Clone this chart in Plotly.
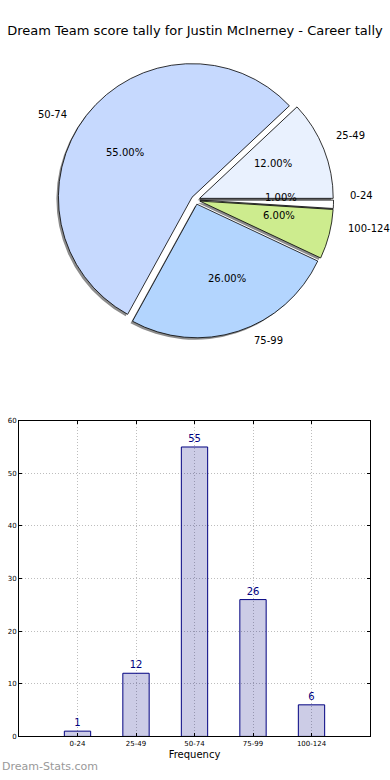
import numpy as np
import plotly.graph_objects as go

# ---------------- data ----------------
categories = ["0-24", "25-49", "50-74", "75-99", "100-124"]
counts = [1, 12, 55, 26, 6]
pie_colors = ["#ffffff", "#e9f1fe", "#c6d9fe", "#b3d5fe", "#cdec8e"]
title_text = "Dream Team score tally for Justin McInerney - Career tally"

W, H = 390, 780
FONT = "DejaVu Sans"

# pie geometry (pixels)
cx_px, cy_px = 195.5, 198.0
pull = 0.033
r_px = 135
half = r_px * (1 + pull)
dom_x = [(cx_px - half) / W, (cx_px + half) / W]
dom_y = [1 - (cy_px + half) / H, 1 - (cy_px - half) / H]
sh = 2.0
shadow_x = [dom_x[0] - sh / W, dom_x[1] - sh / W]
shadow_y = [dom_y[0] - sh / H, dom_y[1] - sh / H]

fig = go.Figure()

# shadow
fig.add_trace(go.Pie(
    values=counts, labels=categories, sort=False, direction="counterclockwise",
    rotation=90, pull=[pull] * len(counts), textinfo="none", hoverinfo="skip",
    marker=dict(colors=["rgba(0,0,0,0.45)"] * len(counts), line=dict(width=0)),
    domain=dict(x=shadow_x, y=shadow_y), showlegend=False,
))
# main pie
fig.add_trace(go.Pie(
    values=counts, labels=categories, sort=False, direction="counterclockwise",
    rotation=90, pull=[pull] * len(counts), textinfo="none",
    marker=dict(colors=pie_colors, line=dict(color="black", width=0.8)),
    domain=dict(x=dom_x, y=dom_y), showlegend=False,
))

# label positions derived from the data (matplotlib-style: pct at 0.6r, label at 1.1r)
vals = np.array(counts, dtype=float)
frac = vals / vals.sum()
ends = np.cumsum(frac) * 2 * np.pi
starts = ends - frac * 2 * np.pi
mid = (starts + ends) / 2
ux, uy = np.cos(mid), np.sin(mid)
pct_text = [f"{100 * f:.2f}%" for f in frac]

annotations = []
for i in range(len(counts)):
    annotations.append(dict(
        x=(pull + 0.6) * ux[i], y=(pull + 0.6) * uy[i], xref="x2", yref="y2",
        text=pct_text[i], showarrow=False, xanchor="center", yanchor="middle",
        font=dict(family=FONT, size=10, color="black"),
    ))
    annotations.append(dict(
        x=(pull + 1.1) * ux[i], y=(pull + 1.1) * uy[i], xref="x2", yref="y2",
        text=categories[i], showarrow=False,
        xanchor="left" if ux[i] > 0 else "right", yanchor="middle",
        font=dict(family=FONT, size=10, color="black"),
    ))
annotations.append(dict(
    text="Dream-Stats.com", x=0, y=0, xref="paper", yref="paper",
    xanchor="left", yanchor="bottom", yshift=1, showarrow=False,
    font=dict(family=FONT, size=11, color="#999999"),
))

# bar chart
fig.add_trace(go.Bar(
    x=categories, y=counts, width=0.45,
    marker=dict(color="rgba(0,0,128,0.2)", line=dict(color="#000080", width=1)),
    text=counts, texttemplate="%{y}", textposition="outside", cliponaxis=False,
    textfont=dict(family=FONT, size=10, color="#000080"),
    xaxis="x", yaxis="y", showlegend=False,
))

# overlay axes (invisible) sharing the pie's pixel scale, widened so labels stay in range
k = 1.35
ov_x = [(cx_px - k * half) / W, (cx_px + k * half) / W]
ov_y = [1 - (cy_px + k * half) / H, 1 - (cy_px - k * half) / H]
ext = k * (1 + pull)
grid = dict(showgrid=True, gridcolor="#bdbdbd", griddash="1px,2px", gridwidth=1)
fig.update_layout(
    width=W, height=H, margin=dict(l=0, r=0, t=0, b=0),
    paper_bgcolor="white", plot_bgcolor="white",
    font=dict(family=FONT, color="black"),
    title=dict(text=title_text, x=0.5, xanchor="center", y=1 - 30 / H, yanchor="middle",
               font=dict(family=FONT, size=13, color="black")),
    xaxis2=dict(domain=ov_x, range=[-ext, ext], visible=False, fixedrange=True, anchor="y2"),
    yaxis2=dict(domain=ov_y, range=[-ext, ext], visible=False, fixedrange=True, anchor="x2"),
    xaxis=dict(
        domain=[19 / W, 370 / W], range=[-1, 5], type="category",
        showline=True, linecolor="black", linewidth=1, mirror="ticks",
        ticks="inside", ticklen=3, tickcolor="black",
        tickfont=dict(family=FONT, size=7, color="black"),
        title=dict(text="Frequency", font=dict(family=FONT, size=10, color="black"), standoff=4),
        anchor="y", zeroline=False, **grid,
    ),
    yaxis=dict(
        domain=[1 - 740 / H, 1 - 421 / H], range=[0, 60], dtick=10,
        showline=True, linecolor="black", linewidth=1, mirror="ticks",
        ticks="inside", ticklen=3, tickcolor="black",
        tickfont=dict(family=FONT, size=7, color="black"),
        anchor="x", zeroline=False, **grid,
    ),
    annotations=annotations,
)

fig.write_html("out.html", config={"displayModeBar": False},
               post_script="document.body.style.margin='0';")
